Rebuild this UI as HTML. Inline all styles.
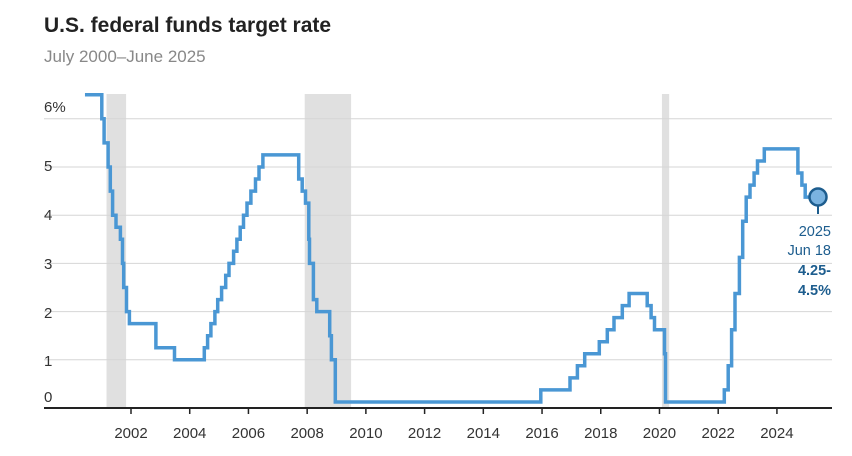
<!DOCTYPE html><html><head><meta charset="utf-8"><style>
body{margin:0;background:#fff;font-family:"Liberation Sans",Arial,sans-serif}
</style></head><body>
<svg id="s" width="852" height="451" xmlns="http://www.w3.org/2000/svg" font-family="Liberation Sans, Arial, sans-serif">
<text x="44" y="32" font-size="21" font-weight="bold" fill="#222">U.S. federal funds target rate</text>
<text x="44" y="62" font-size="17" fill="#888">July 2000–June 2025</text>
<g id="rec" fill="#e0e0e0"></g>
<g id="grid" stroke="#d6d6d6" stroke-width="1"></g>
<g id="lab" font-size="15" fill="#333"></g>
<path id="ln" fill="none" stroke="#4a97d4" stroke-width="3.5" stroke-linejoin="miter"/>
<line x1="44" y1="408" x2="832" y2="408" stroke="#222" stroke-width="2"/>
<g id="xt" font-size="15" fill="#333" text-anchor="middle"></g>
<line x1="818" y1="197" x2="818" y2="214" stroke="#1d5d8e" stroke-width="2"/>
<circle cx="818" cy="197" r="8.5" fill="#7ab3e0" stroke="#1d5d8e" stroke-width="2.5"/>
<g font-size="14.5" fill="#1d5d8e" text-anchor="end">
<text x="831" y="236">2025</text><text x="831" y="255">Jun 18</text>
<text x="831" y="275" font-weight="bold">4.25-</text><text x="831" y="295" font-weight="bold">4.5%</text></g>
</svg>
<script>
function X(y,m,d){return 131+((y+(m-1)/12+(d-1)/365)-2002)*29.36}
function Y(v){return 408-48.2*v}
var ns="http://www.w3.org/2000/svg";
function el(p,t,a,txt){var e=document.createElementNS(ns,t);for(var k in a)e.setAttribute(k,a[k]);if(txt)e.textContent=txt;document.getElementById(p).appendChild(e)}
[[2001,3,1,2001,11,1],[2007,12,1,2009,6,30],[2020,2,1,2020,4,30]].forEach(function(r){var a=X(r[0],r[1],r[2]),b=X(r[3],r[4],r[5]);el("rec","rect",{x:a,y:94,width:Math.max(b-a,4),height:314})});
for(var i=1;i<=6;i++){el("grid","line",{x1:44,x2:832,y1:Y(i),y2:Y(i)});}
var ly=[397,361,313,264,215,166,107];
["0","1","2","3","4","5","6%"].forEach(function(t,i){el("lab","text",{x:44,y:ly[i]+5},t)});
for(var y=2002;y<=2024;y+=2){var x=131+(y-2002)*29.36;el("xt","line",{x1:x,x2:x,y1:408,y2:414,stroke:"#222","stroke-width":1.5});el("xt","text",{x:x,y:438},String(y))}
var d=[[2000,7,1,6.5],[2001,1,3,6],[2001,1,31,5.5],[2001,3,20,5],[2001,4,18,4.5],[2001,5,15,4],[2001,6,27,3.75],[2001,8,21,3.5],[2001,9,17,3],[2001,10,2,2.5],[2001,11,6,2],[2001,12,11,1.75],[2002,11,6,1.25],[2003,6,25,1],[2004,6,30,1.25],[2004,8,10,1.5],[2004,9,21,1.75],[2004,11,10,2],[2004,12,14,2.25],[2005,2,2,2.5],[2005,3,22,2.75],[2005,5,3,3],[2005,6,30,3.25],[2005,8,9,3.5],[2005,9,20,3.75],[2005,11,1,4],[2005,12,13,4.25],[2006,1,31,4.5],[2006,3,28,4.75],[2006,5,10,5],[2006,6,29,5.25],[2007,9,18,4.75],[2007,10,31,4.5],[2007,12,11,4.25],[2008,1,22,3.5],[2008,1,30,3],[2008,3,18,2.25],[2008,4,30,2],[2008,10,8,1.5],[2008,10,29,1],[2008,12,16,0.125],[2015,12,16,0.375],[2016,12,14,0.625],[2017,3,15,0.875],[2017,6,14,1.125],[2017,12,13,1.375],[2018,3,21,1.625],[2018,6,13,1.875],[2018,9,26,2.125],[2018,12,19,2.375],[2019,7,31,2.125],[2019,9,18,1.875],[2019,10,30,1.625],[2020,3,3,1.125],[2020,3,15,0.125],[2022,3,16,0.375],[2022,5,4,0.875],[2022,6,15,1.625],[2022,7,27,2.375],[2022,9,21,3.125],[2022,11,2,3.875],[2022,12,14,4.375],[2023,2,1,4.625],[2023,3,22,4.875],[2023,5,3,5.125],[2023,7,26,5.375],[2024,9,18,4.875],[2024,11,7,4.625],[2024,12,18,4.375]];
var p="M"+(X(2000,7,1)-2)+" "+Y(6.5);
d.forEach(function(r,i){if(i==0)return;var x=X(r[0],r[1],r[2]);p+=" H"+x.toFixed(1)+" V"+Y(r[3]).toFixed(1);});
p+=" H"+X(2025,6,18).toFixed(1);
document.getElementById("ln").setAttribute("d",p);
</script>
</body></html>
